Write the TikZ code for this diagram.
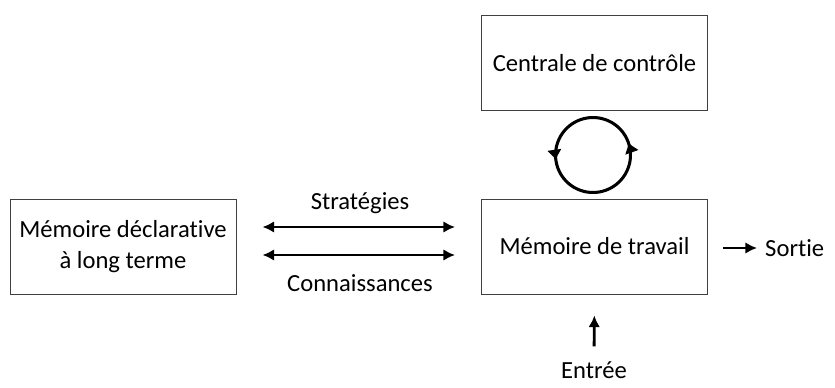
\documentclass[tikz,border=0pt]{standalone}
\usepackage{fontspec}
\setmainfont{Carlito}[Ligatures=NoCommon]
\usetikzlibrary{arrows.meta,decorations.markings}

\begin{document}
\begin{tikzpicture}[x=0.03cm, y=0.03cm]
		\tikzstyle{every node}+=[inner sep=0pt, font=\fontsize{21}{25}\selectfont]
		\tikzstyle{box}=[draw=black!75, line width=0.8pt, minimum width=6.78cm, minimum height=2.85cm, align=center]
		\tikzstyle{arr}=[line width=2.4pt, -{Latex[length=10pt,width=10pt]}]
		\tikzstyle{darr}=[line width=2.4pt, {Latex[length=10pt,width=10pt]}-{Latex[length=10pt,width=10pt]}]
		\useasboundingbox (0,0) rectangle (835,-387);
		% boites
		\node [box] (ctrl) at (594.5,-63) {Centrale de contrôle};
		\node [box] (ltm) at (123,-246.5) {Mémoire déclarative\\[2pt]à long terme};
		\node [box] (wm) at (594.5,-246.5) {Mémoire de travail};
		% textes
		\node (strat) at (360,-203) {Stratégies};
		\node (conn) at (360,-283) {Connaissances};
		\node [anchor=west] (sortie) at (765,-248) {Sortie};
		\node (entree) at (594,-370) {Entrée};
		% fleches
		\draw [darr, shorten <=0.78cm, shorten >=0.78cm] ([yshift=0.585cm]ltm.east) -- ([yshift=0.585cm]wm.west);
		\draw [darr, shorten <=0.78cm, shorten >=0.78cm] ([yshift=-0.255cm]ltm.east) -- ([yshift=-0.255cm]wm.west);
		\draw [arr, shorten <=0.45cm, shorten >=0.24cm] (wm.east |- sortie.west) -- (sortie.west);
		\draw [arr, shorten <=0.45cm, shorten >=0.63cm] (entree.north) -- (wm.south);
		% boucle
		\draw [line width=2.6pt, postaction={decorate}, decoration={markings,
			mark=at position 0.467 with {\arrow{Latex[length=9pt,width=13pt]}},
			mark=at position 0.999 with {\arrow{Latex[length=9pt,width=13pt]}}}]
			(593,-155) ++(20:37.5) arc (20:380:37.5);
	\end{tikzpicture}
\end{document}
